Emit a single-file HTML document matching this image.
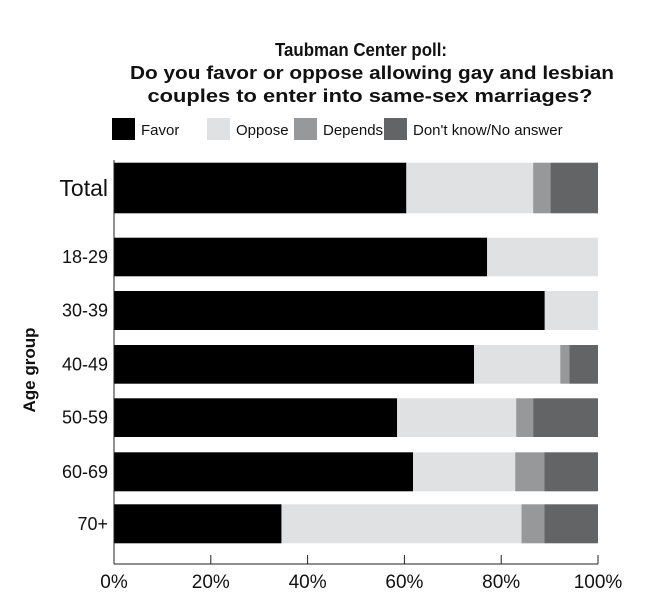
<!DOCTYPE html>
<html><head><meta charset="utf-8"><style>
body{margin:0;background:#fff;font-family:"Liberation Sans",sans-serif}
</style></head><body>
<svg id="chart" width="650" height="611" xmlns="http://www.w3.org/2000/svg" font-family="Liberation Sans, sans-serif">
<g font-weight="bold" font-size="18" text-anchor="middle" fill="#111">
<text x="361" y="56" textLength="172" lengthAdjust="spacingAndGlyphs">Taubman Center poll:</text>
<text x="372" y="79" textLength="484" lengthAdjust="spacingAndGlyphs">Do you favor or oppose allowing gay and lesbian</text>
<text x="370" y="102" textLength="445" lengthAdjust="spacingAndGlyphs">couples to enter into same-sex marriages?</text>
</g>
<g id="legend"></g>
<g id="bars"></g>
<g id="axes"></g>
<text transform="translate(35,370) rotate(-90)" text-anchor="middle" font-weight="bold" font-size="17" fill="#111">Age group</text>
</svg>
<script>
const categories = ["Total","18-29","30-39","40-49","50-59","60-69","70+"];
const seriesNames = ["Favor","Oppose","Depends","Don't know/No answer"];
const favor   = [60.4, 77.1, 89.0, 74.4, 58.5, 61.8, 34.6];
const oppose  = [26.2, 22.9, 11.0, 17.8, 24.6, 21.1, 49.6];
const depends = [3.6, 0, 0, 1.9, 3.5, 6.0, 4.7];
const dontKnow= [9.8, 0, 0, 5.9, 13.4, 11.1, 11.1];
const ticks = [0,20,40,60,80,100];

const NS="http://www.w3.org/2000/svg";
const colors=["#000000","#e0e1e2","#97989a","#636466"];
const series=[favor,oppose,depends,dontKnow];
const x0=114, x1=598;
const xs=v=>x0+(v/100)*(x1-x0);
const barTop=[162.7,237.7,291,345,398.3,452.3,504.3];
const barH=[50.6,38.6,39,38.7,38.7,39,39];
function mk(tag,attrs,parent){const e=document.createElementNS(NS,tag);for(const k in attrs)e.setAttribute(k,attrs[k]);parent.appendChild(e);return e;}
const bars=document.getElementById('bars');
categories.forEach((c,i)=>{
  let acc=0;
  series.forEach((s,j)=>{
    const v=s[i];
    if(v>0){
      const r=mk('rect',{x:xs(acc),y:barTop[i],width:xs(acc+v)-xs(acc),height:barH[i],fill:colors[j]},bars);
      
      
    }
    acc+=v;
  });
  const t=mk('text',{x:108,y:barTop[i]+barH[i]/2+(i===0?8:6),'text-anchor':'end','font-size':i===0?23:18,fill:'#111'},bars);
  t.textContent=c;
  
  
});
const axes=document.getElementById('axes');
const yl=mk('line',{x1:x0,y1:160,x2:x0,y2:564,stroke:'#222','stroke-width':1},axes);


const xl=mk('line',{x1:x0,y1:564,x2:x1,y2:564,stroke:'#222','stroke-width':1},axes);


ticks.forEach(t=>{
  const l=mk('line',{x1:xs(t),y1:555,x2:xs(t),y2:564,stroke:'#222'},axes);
  
  
  const tx=mk('text',{x:xs(t),y:588,'text-anchor':'middle','font-size':19,fill:'#111'},axes);
  tx.textContent=t+'%';
  
  
});
const legend=document.getElementById('legend');
const lx=[112,207,294,384];
seriesNames.forEach((n,j)=>{
  const r=mk('rect',{x:lx[j],y:118,width:23,height:22,fill:colors[j]},legend);
  
  
  const t=mk('text',{x:lx[j]+29,y:135,'font-size':15,fill:'#111'},legend);
  t.textContent=n;
  
  
});
</script>
</body></html>
